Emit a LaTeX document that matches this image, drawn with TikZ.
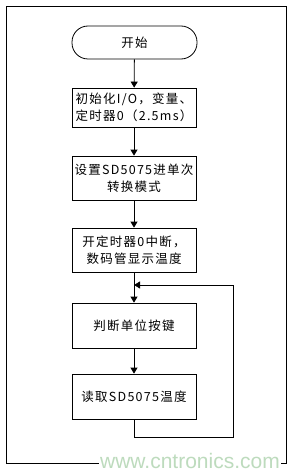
\documentclass[tikz,border=0pt]{standalone}
\usepackage{fontspec}
\setmainfont{Noto Sans CJK SC}
\newfontfamily\wmfont{Liberation Sans}
\usetikzlibrary{arrows.meta}
\tikzset{
  box/.style={draw, line width=0.8pt, minimum width=124pt, inner sep=2pt,
    font=\fontsize{12.5}{17}\selectfont\addfontfeature{LetterSpace=10}},
  term/.style={draw, line width=0.8pt, rounded corners=16pt, minimum width=125pt, minimum height=33pt,
    font=\fontsize{12.5}{17}\selectfont\addfontfeature{LetterSpace=10}},
  flow/.style={line width=0.8pt, -{Triangle[width=7pt,length=6pt]}},
  frame/.style={draw, line width=0.8pt}
}
\begin{document}
\begin{tikzpicture}[x=1pt,y=-1pt]
\useasboundingbox (0,0) rectangle (292,476);
\draw[frame] (6,6) rectangle (286,463);
\node[term] (s) at (134.5,42.5) {开始};
\node[box, minimum height=39pt, align=left] (b1) at (134,107.5) {初始化I/O，变量、\\定时器0（2.5ms）};
\node[box, minimum height=44pt, align=center] (b2) at (134,178) {设置SD5075进单次\\转换模式};
\node[box, minimum height=44pt, align=center] (b3) at (134,250) {开定时器0中断，\\数码管显示温度};
\node[box, minimum height=45pt] (b4) at (134,325.5) {判断单位按键};
\node[box, minimum height=45pt] (b5) at (134,396.5) {读取SD5075温度};
\coordinate (c1) at (233,437);
\coordinate (c2) at (233,285);
\coordinate (j) at (134,285);
\draw[flow] (s) -- (b1);
\draw[flow] (b1) -- (b2);
\draw[flow] (b2) -- (b3);
\draw[flow] (b3) -- (b4);
\draw[flow] (b4) -- (b5);
\draw[flow] (b5.south) |- (c1) -- (c2) -- (j);
\node[fill=white, inner sep=1pt, text=green!30!gray!40, font=\wmfont\fontsize{21}{21}\selectfont] (wm) at (190,461) {www.cntronics.com};
\end{tikzpicture}
\end{document}
